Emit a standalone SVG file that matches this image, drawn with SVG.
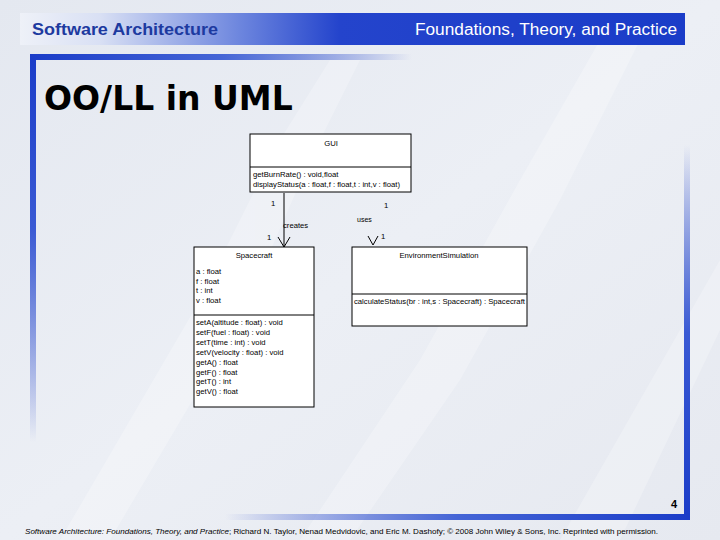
<svg xmlns="http://www.w3.org/2000/svg" width="720" height="540" viewBox="0 0 720 540">
<defs>
<linearGradient id="bg" x1="0" y1="0" x2="1" y2="1">
<stop offset="0" stop-color="#e4e8f0"/>
<stop offset="0.5" stop-color="#eceff5"/>
<stop offset="1" stop-color="#e6e9f0"/>
</linearGradient>
<linearGradient id="hdr" x1="0" y1="0" x2="1" y2="0">
<stop offset="0" stop-color="#eef1f8"/>
<stop offset="0.12" stop-color="#d9e0f4"/>
<stop offset="0.33" stop-color="#6d86de"/>
<stop offset="0.48" stop-color="#2444cc"/>
<stop offset="1" stop-color="#1a3cc8"/>
</linearGradient>
<linearGradient id="vl" x1="0" y1="0" x2="0" y2="1">
<stop offset="0" stop-color="#1a3cc8"/>
<stop offset="0.45" stop-color="#3a5ad4"/>
<stop offset="1" stop-color="#1a3cc8" stop-opacity="0"/>
</linearGradient>
<linearGradient id="ht" x1="0" y1="0" x2="1" y2="0">
<stop offset="0" stop-color="#1a3cc8"/>
<stop offset="0.5" stop-color="#4565d6"/>
<stop offset="1" stop-color="#1a3cc8" stop-opacity="0"/>
</linearGradient>
<linearGradient id="vr" x1="0" y1="1" x2="0" y2="0">
<stop offset="0" stop-color="#1a3cc8"/>
<stop offset="0.5" stop-color="#3a5ad4"/>
<stop offset="1" stop-color="#1a3cc8" stop-opacity="0"/>
</linearGradient>
<linearGradient id="hb" x1="1" y1="0" x2="0" y2="0">
<stop offset="0" stop-color="#1a3cc8"/>
<stop offset="0.5" stop-color="#4565d6"/>
<stop offset="1" stop-color="#1a3cc8" stop-opacity="0"/>
</linearGradient>
<style>
.u{font-family:"Liberation Sans",Arial,sans-serif;font-size:7.7px;fill:#000}
.box{fill:#fff;stroke:#000;stroke-width:1}
.sep{stroke:#000;stroke-width:1}
.c{stroke:#000;stroke-width:1;fill:none}
</style>
</defs>
<rect width="720" height="540" fill="url(#bg)"/>
<g fill="#ffffff" opacity="0.25">
<path d="M60 540 L200 300 L280 140 L330 60 L360 60 L310 160 L240 320 L110 540 Z"/>
<path d="M300 540 L420 360 L520 180 L600 40 L640 40 L560 200 L460 380 L350 540 Z"/>
<path d="M560 540 L640 400 L720 260 L720 330 L620 540 Z"/>
</g>
<rect x="20" y="13" width="665" height="32" fill="url(#hdr)"/>
<text x="32" y="35" font-family="Liberation Sans,Arial,sans-serif" font-size="16" font-weight="bold" fill="#1d3aa0" textLength="186" lengthAdjust="spacingAndGlyphs">Software Architecture</text>
<text x="415" y="35" font-family="Liberation Sans,Arial,sans-serif" font-size="16" fill="#ffffff" textLength="262" lengthAdjust="spacingAndGlyphs">Foundations, Theory, and Practice</text>
<rect x="30" y="54" width="6" height="388" fill="url(#vl)"/>
<rect x="30" y="54" width="382" height="6" fill="url(#ht)"/>
<rect x="684" y="145" width="6" height="375" fill="url(#vr)"/>
<rect x="225" y="514" width="465" height="6" fill="url(#hb)"/>
<text x="44" y="110" font-family="DejaVu Sans,Verdana,sans-serif" font-size="33" font-weight="bold" fill="#000">OO/LL in UML</text>
<text x="677" y="508" text-anchor="end" font-family="Liberation Sans,Arial,sans-serif" font-size="11" font-weight="bold" fill="#000">4</text>
<text x="25" y="534" font-family="Liberation Sans,Arial,sans-serif" font-size="7.5" fill="#000" textLength="633" lengthAdjust="spacingAndGlyphs"><tspan font-style="italic">Software Architecture: Foundations, Theory, and Practice</tspan>; Richard N. Taylor, Nenad Medvidovic, and Eric M. Dashofy; © 2008 John Wiley &amp; Sons, Inc. Reprinted with permission.</text>

<g id="connectors">
<line class="c" x1="284" y1="193" x2="284" y2="247"/>
<polyline class="c" points="278,237 284,247 290,237"/>
<polyline class="c" points="368,236 373,245 378,236"/>
<text class="u" x="271" y="206">1</text>
<text class="u" x="283" y="228">creates</text>
<text class="u" x="267" y="240">1</text>
<text class="u" x="384" y="208">1</text>
<text class="u" x="357" y="222" style="font-size:7px">uses</text>
<text class="u" x="381" y="239">1</text>
</g>

<g id="GUI">
<rect class="box" x="250" y="134" width="161" height="58"/>
<line class="sep" x1="250" y1="167" x2="411" y2="167"/>
<text class="u" x="331" y="146" text-anchor="middle">GUI</text>
<text class="u" x="253" y="177">getBurnRate() : void,float</text>
<text class="u" x="253" y="187">displayStatus(a : float,f : float,t : int,v : float)</text>
</g>

<g id="Spacecraft">
<rect class="box" x="194" y="247" width="120" height="160"/>
<line class="sep" x1="194" y1="315" x2="314" y2="315"/>
<text class="u" x="254" y="258" text-anchor="middle">Spacecraft</text>
<text class="u" x="196" y="274">a : float</text>
<text class="u" x="196" y="284">f : float</text>
<text class="u" x="196" y="293">t : int</text>
<text class="u" x="196" y="303">v : float</text>
<text class="u" x="196" y="325">setA(altitude : float) : void</text>
<text class="u" x="196" y="335">setF(fuel : float) : void</text>
<text class="u" x="196" y="345">setT(time : int) : void</text>
<text class="u" x="196" y="355">setV(velocity : float) : void</text>
<text class="u" x="196" y="365">getA() : float</text>
<text class="u" x="196" y="375">getF() : float</text>
<text class="u" x="196" y="384">getT() : int</text>
<text class="u" x="196" y="394">getV() : float</text>
</g>

<g id="EnvironmentSimulation">
<rect class="box" x="352" y="247" width="175" height="79"/>
<line class="sep" x1="352" y1="294" x2="527" y2="294"/>
<text class="u" x="439" y="258" text-anchor="middle">EnvironmentSimulation</text>
<text class="u" x="354" y="304">calculateStatus(br : int,s : Spacecraft) : Spacecraft</text>
</g>
</svg>
